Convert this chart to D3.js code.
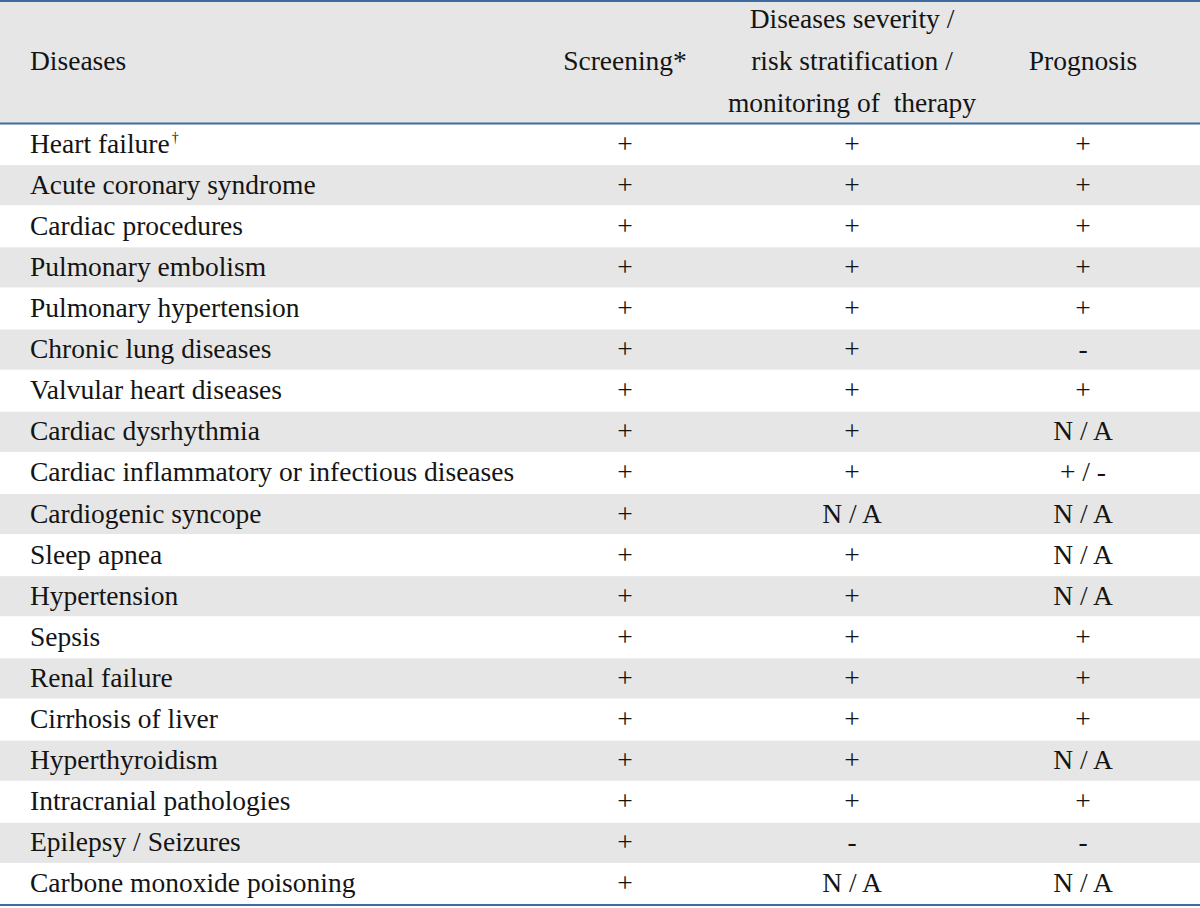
<!DOCTYPE html>
<html><head><meta charset="utf-8">
<script src="https://cdn.jsdelivr.net/npm/d3@7"></script>
<style>html,body{margin:0;padding:0;background:#fff}svg{display:block}text{font-family:"Liberation Serif","Times New Roman",serif;fill:#141414}</style>
</head><body><div id="chart"></div>
<script>
const diseases = ["Heart failure","Acute coronary syndrome","Cardiac procedures","Pulmonary embolism","Pulmonary hypertension","Chronic lung diseases","Valvular heart diseases","Cardiac dysrhythmia","Cardiac inflammatory or infectious diseases","Cardiogenic syncope","Sleep apnea","Hypertension","Sepsis","Renal failure","Cirrhosis of liver","Hyperthyroidism","Intracranial pathologies","Epilepsy / Seizures","Carbone monoxide poisoning"];
const screening = ["+","+","+","+","+","+","+","+","+","+","+","+","+","+","+","+","+","+","+"];
const severity = ["+","+","+","+","+","+","+","+","+","N / A","+","+","+","+","+","+","+","-","N / A"];
const prognosis = ["+","+","+","+","+","-","+","N / A","+ / -","N / A","N / A","N / A","+","+","+","N / A","+","-","N / A"];
const columns = ["Diseases","Screening*","Diseases severity /\nrisk stratification /\nmonitoring of  therapy","Prognosis"];
const footnoteMarks = {"Heart failure":"\u2020"};

const W = 1200, H = 908;
const svg = d3.select("#chart").append("svg").attr("width", W).attr("height", H);
const headTop = 2, headBottom = 123, tableBottom = 904;
const y = d3.scaleBand().domain(diseases).range([headBottom, tableBottom]);
const colX = d3.scaleOrdinal().domain(columns).range([30, 625, 852, 1083]);
const fs = 27.5;

svg.append("rect").attr("x",0).attr("y",headTop).attr("width",W).attr("height",headBottom-headTop).attr("fill","#e6e6e6");
svg.selectAll("rect.stripe").data(diseases.filter((d,i)=>i%2===1)).join("rect")
  .attr("class","stripe").attr("x",0).attr("y",d=>y(d)+1).attr("width",W).attr("height",y.bandwidth()-1).attr("fill","#e6e6e6");

const border = "#3f6c9f";
[1, headBottom+0.5, tableBottom+1].forEach(v=>{
  svg.append("line").attr("x1",0).attr("x2",W).attr("y1",v).attr("y2",v).attr("stroke",border).attr("stroke-width",2);
});

columns.forEach((c,i)=>{
  const lines = c.split("\n");
  const t = svg.append("text").attr("font-size",fs).attr("text-anchor", i===0?"start":"middle").attr("xml:space","preserve");
  const mid = 60;
  const lh = 42;
  lines.forEach((l,j)=>{
    t.append("tspan").attr("x",colX(c)).attr("y", mid + (j-(lines.length-1)/2)*lh + 10).text(l);
  });
});

const rows = diseases.map((d,i)=>({d, vals:[screening[i],severity[i],prognosis[i]]}));
const g = svg.selectAll("g.row").data(rows).join("g").attr("class","row")
  .attr("transform",d=>`translate(0,${y(d.d)+y.bandwidth()/2+9})`);
const lab = g.append("text").attr("x",colX(columns[0])).attr("font-size",fs).text(d=>d.d);
lab.filter(d=>footnoteMarks[d.d]).append("tspan").attr("font-size",14).attr("dx",2).attr("dy",-11).text(d=>footnoteMarks[d.d]);
columns.slice(1).forEach((c,k)=>{
  g.append("text").attr("x",colX(c)).attr("text-anchor","middle").attr("font-size",fs).text(d=>d.vals[k]);
});
</script></body></html>
